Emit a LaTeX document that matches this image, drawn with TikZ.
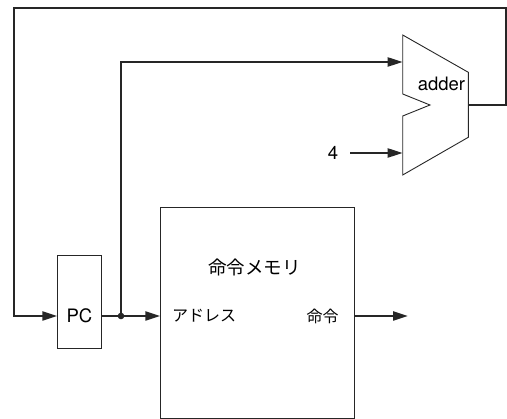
\documentclass[tikz,border=0pt]{standalone}
\usepackage{fontspec}
\setmainfont{TeX Gyre Heros}
\newfontfamily\jpfont{Noto Sans CJK JP}
\usetikzlibrary{arrows.meta}
\begin{document}
\begin{tikzpicture}[x=1pt,y=-1pt,
  box/.style={draw=black!85,line width=0.9pt},
  wire/.style={draw=black!85,line width=2.2pt},
  arr/.style={wire,-{Triangle[length=15pt,width=9pt]}},
  lbl/.style={font=\fontsize{18.5}{18.5}\selectfont,inner sep=0pt},
  jlbl/.style={font=\jpfont\fontsize{16}{16}\selectfont,inner sep=0pt},
  jtitle/.style={font=\jpfont\fontsize{18.5}{18.5}\selectfont,inner sep=0pt}]
\useasboundingbox (0,0) rectangle (507,419);
% adder
\draw[box,fill=white] (402.7,35) -- (468.3,72.3) -- (468.3,137.3) -- (402.7,175) -- (402.7,116) -- (430,105) -- (402.7,94) -- cycle;
\node[lbl] (adder) at (441.5,83.5) {adder};
\coordinate (addin1) at (402.7,62);
\coordinate (addin2) at (402.7,153);
\coordinate (addout) at (468.3,105);
% PC
\node[box,minimum width=43.3pt,minimum height=92.3pt,inner sep=0pt] (pc) at (79.35,301.85) {};
\node[lbl] at (pc.center |- 0,316) {PC};
% memory
\node[box,minimum width=194pt,minimum height=211pt,inner sep=0pt] (mem) at (257.7,312.8) {};
\node[jtitle] (memtitle) at (254.5,267) {命令メモリ};
\node[jlbl,anchor=west] (addr) at (172,316) {アドレス};
\node[jlbl] (instr) at (322.5,316) {命令};
\coordinate (memin) at (mem.west |- 0,316);
\coordinate (memout) at (mem.east |- 0,316);
\coordinate (pcin) at (pc.west |- 0,316);
\coordinate (pcout) at (pc.east |- 0,316);
\coordinate (dot) at (121,316);
\coordinate (end) at (408,316);
% four
\node[lbl] (four) at (333,153) {4};
\coordinate (fourout) at (350,153);
% wires
\draw[arr] (addout) -- (505.7,105) -- (505.7,8) -- (14,8) -- (14,316) -- (pcin);
\draw[arr] (pcout) -- (memin);
\draw[arr] (dot) -- (121,62) -- (addin1);
\draw[arr] (fourout) -- (addin2);
\draw[arr] (memout) -- (end);
\fill[black!85] (dot) circle (3.3pt);
\end{tikzpicture}
\end{document}
